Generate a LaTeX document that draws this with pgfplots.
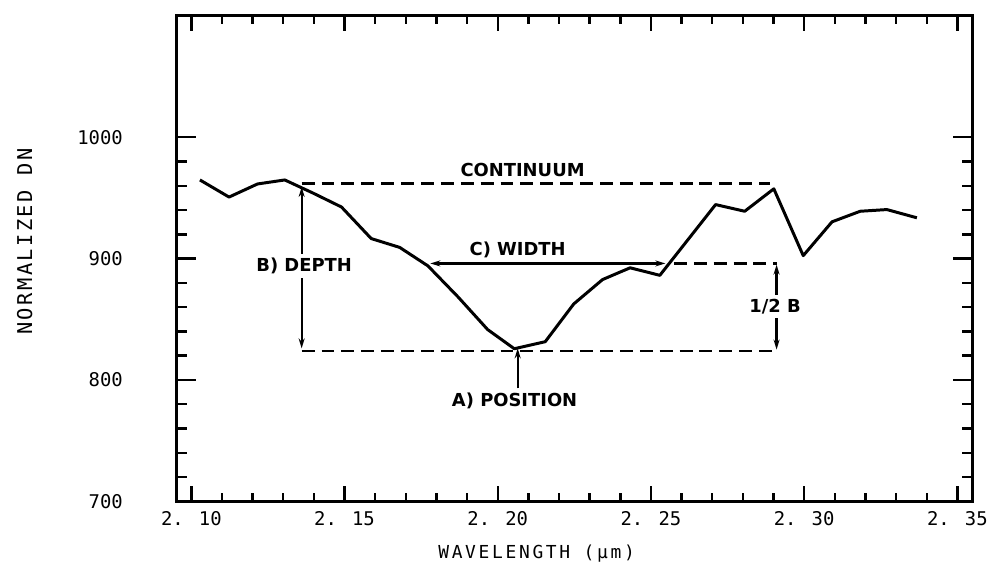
\documentclass[border=0pt]{standalone}
\usepackage{fontspec}
\setmainfont{DejaVu Sans}
\newfontfamily\mono{DejaVu Sans Mono}
\usepackage{pgfplots}
\usepackage{pgfplotstable}
\pgfplotsset{compat=1.18}
\usetikzlibrary{arrows.meta}

\pgfplotstableread{
x y
2.1028 964.8
2.1123 950.7
2.1216 961.5
2.1305 964.8
2.1397 954.0
2.1490 942.5
2.1587 916.5
2.1680 909.2
2.1772 894.0
2.1870 868.5
2.1967 841.5
2.2054 825.7
2.2155 831.5
2.2248 862.6
2.2342 882.7
2.2432 892.4
2.2529 886.2
2.2619 915.0
2.2711 944.5
2.2806 939.0
2.2901 957.5
2.2997 902.4
2.3091 930.3
2.3183 939.0
2.3270 940.4
2.3368 933.6
}\spectrum

\begin{document}
\begin{tikzpicture}
\begin{axis}[
  scale only axis, width=801pt, height=488pt,
  xmin=2.095, xmax=2.355, ymin=700, ymax=1100,
  clip=false,
  xtick={2.10,2.15,2.20,2.25,2.30,2.35},
  xticklabels={2. 10,2. 15,2. 20,2. 25,2. 30,2. 35},
  ytick={700,800,900,1000},
  yticklabels={700,800,900,1000},
  minor x tick num=4, minor y tick num=4,
  tick align=inside,
  xtick pos=both, ytick pos=both,
  xticklabel pos=lower, yticklabel pos=left,
  axis line style={line width=3pt},
  tick style={black, line width=2.4pt},
  major tick length=15pt, minor tick length=8pt,
  ytick style={/pgfplots/major tick length=20pt, /pgfplots/minor tick length=11pt},
  xticklabel style={font=\mono\fontsize{19}{22}\selectfont, yshift=-7pt},
  yticklabel style={font=\mono\fontsize{19}{22}\selectfont, xshift=-50pt},
  xlabel={WAVELENGTH  (µm)},
  ylabel={NORMALIZED DN},
  xlabel style={font=\mono\addfontfeature{LetterSpace=15}\fontsize{18}{20}\selectfont,
    at={(axis description cs:0.4526,-0.1086)}, anchor=center},
  ylabel style={font=\mono\addfontfeature{LetterSpace=12}\fontsize{20.5}{22}\selectfont,
    at={(axis description cs:-0.19,0.535)}, anchor=center},
]
% annotations
\draw[line width=2.4pt, dash pattern=on 13pt off 7pt] (axis cs:2.136,962) -- (axis cs:2.289,962);
\node[font=\bfseries\fontsize{18}{20}\selectfont] at (axis cs:2.2081,973) {CONTINUUM};
\draw[line width=2.2pt, {Stealth[length=10pt,width=6pt]}-{Stealth[length=10pt,width=6pt]}] (axis cs:2.136,959) -- (axis cs:2.136,826);
\node[fill=white, inner xsep=2pt, inner ysep=4pt, font=\bfseries\fontsize{18}{20}\selectfont] at (axis cs:2.1368,894) {B) DEPTH};
\draw[line width=2.4pt, dash pattern=on 13pt off 7pt] (axis cs:2.136,824) -- (axis cs:2.291,824);
\draw[line width=2.2pt, {Stealth[length=10pt,width=6pt]}-{Stealth[length=10pt,width=6pt]}] (axis cs:2.178,896) -- (axis cs:2.2547,896);
\node[font=\bfseries\fontsize{18}{20}\selectfont] at (axis cs:2.2065,907) {C) WIDTH};
\draw[line width=2.4pt, dash pattern=on 13pt off 7pt] (axis cs:2.2575,896) -- (axis cs:2.291,896);
\draw[line width=2.2pt, {Stealth[length=10pt,width=6pt]}-{Stealth[length=10pt,width=6pt]}] (axis cs:2.291,895) -- (axis cs:2.291,825);
\node[fill=white, inner xsep=2pt, inner ysep=4pt, font=\bfseries\fontsize{18}{20}\selectfont] at (axis cs:2.2905,860.4) {1/2 B};
\draw[line width=2.2pt, -{Stealth[length=10pt,width=6pt]}] (axis cs:2.2065,793) -- (axis cs:2.2065,826);
\node[font=\bfseries\fontsize{18}{20}\selectfont] at (axis cs:2.2055,783) {A) POSITION};
% spectrum
\addplot[black, line width=3pt, line join=round, no marks] table[x=x,y=y] {\spectrum};
% bounding box helpers
\coordinate (bl) at ([xshift=-177pt,yshift=-62pt]rel axis cs:0,0);
\coordinate (tr) at ([xshift=13pt,yshift=16pt]rel axis cs:1,1);
\end{axis}
\path (bl) rectangle (tr);
\end{tikzpicture}
\end{document}
